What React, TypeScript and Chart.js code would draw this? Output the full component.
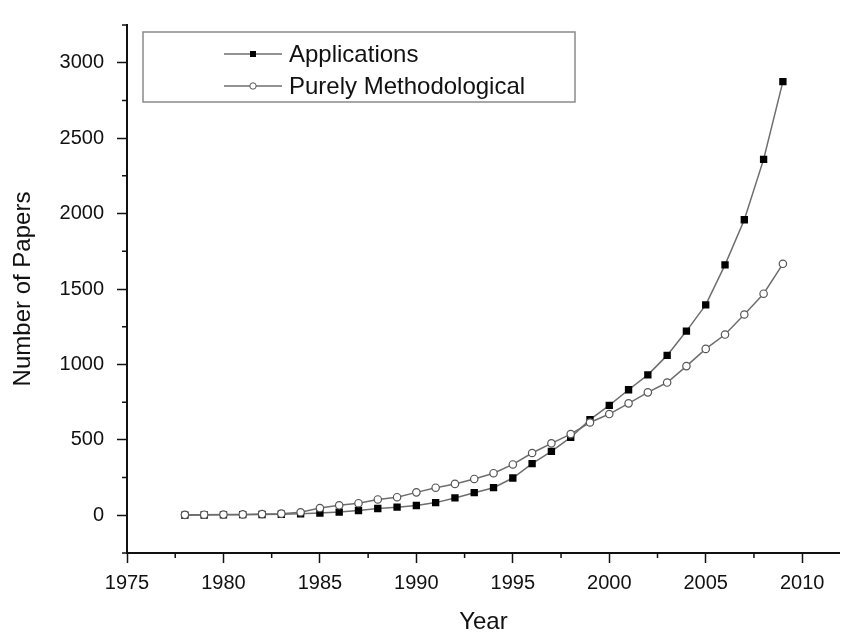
import React, { useEffect, useRef } from 'react';
import { Chart, registerables } from 'chart.js';

Chart.register(...registerables);

const years = [
  1978, 1979, 1980, 1981, 1982, 1983, 1984, 1985, 1986, 1987, 1988, 1989, 1990, 1991, 1992, 1993,
  1994, 1995, 1996, 1997, 1998, 1999, 2000, 2001, 2002, 2003, 2004, 2005, 2006, 2007, 2008, 2009,
];
const applications = [
  1, 2, 3, 4, 5, 7, 10, 15, 21, 32, 45, 54, 65, 84, 115, 150,
  183, 247, 342, 424, 516, 634, 729, 832, 931, 1060, 1221, 1395, 1660, 1959, 2359, 2875,
];
const methodological = [
  3, 4, 5, 6, 8, 11, 20, 48, 66, 80, 105, 120, 152, 183, 208, 241,
  279, 337, 413, 477, 538, 615, 671, 742, 815, 880, 989, 1103, 1198, 1331, 1469, 1667,
];
const seriesLabels = ['Applications', 'Purely Methodological'];
const xTickValues = [1975, 1980, 1985, 1990, 1995, 2000, 2005, 2010];
const yTickValues = [0, 500, 1000, 1500, 2000, 2500, 3000];
const xMinorTicks = [1977.5, 1982.5, 1987.5, 1992.5, 1997.5, 2002.5, 2007.5];
const yMinorTicks = [-250, 250, 750, 1250, 1750, 2250, 2750, 3250];
const xTitle = 'Year';
const yTitle = 'Number of Papers';

const FONT = "'Liberation Sans', Arial, sans-serif";
const INK = '#111111';
const LINE = '#6e6e6e';

const minorTickPlugin = {
  id: 'minorTicks',
  afterDraw(chart: any) {
    const { ctx } = chart;
    const xs = chart.scales.x;
    const ys = chart.scales.y;
    ctx.save();
    ctx.strokeStyle = INK;
    ctx.lineWidth = 1.5;
    ctx.beginPath();
    xMinorTicks.forEach((v) => {
      const px = xs.getPixelForValue(v);
      ctx.moveTo(px, xs.top);
      ctx.lineTo(px, xs.top + 5);
    });
    yMinorTicks.forEach((v) => {
      const py = ys.getPixelForValue(v);
      ctx.moveTo(ys.right, py);
      ctx.lineTo(ys.right - 5, py);
    });
    ctx.stroke();
    ctx.restore();
  },
};

const boxLegendPlugin = {
  id: 'boxLegend',
  afterDraw(chart: any) {
    const { ctx } = chart;
    const left = 143;
    const top = 32;
    const width = 432;
    const height = 70;
    ctx.save();
    ctx.fillStyle = '#ffffff';
    ctx.fillRect(left, top, width, height);
    ctx.strokeStyle = '#8a8a8a';
    ctx.lineWidth = 1.5;
    ctx.strokeRect(left, top, width, height);
    const rows = [54, 86];
    chart.data.datasets.forEach((ds: any, i: number) => {
      const y = rows[i];
      ctx.strokeStyle = LINE;
      ctx.lineWidth = 1.5;
      ctx.beginPath();
      ctx.moveTo(224, y);
      ctx.lineTo(282, y);
      ctx.stroke();
      if (ds.pointStyle === 'rect') {
        ctx.fillStyle = '#000';
        ctx.fillRect(253 - 3, y - 3, 6, 6);
      } else {
        ctx.beginPath();
        ctx.arc(253, y, 3.2, 0, Math.PI * 2);
        ctx.fillStyle = '#fff';
        ctx.fill();
        ctx.strokeStyle = '#555';
        ctx.lineWidth = 1;
        ctx.stroke();
      }
      ctx.fillStyle = INK;
      ctx.font = `24px ${FONT}`;
      ctx.textAlign = 'left';
      ctx.textBaseline = 'middle';
      ctx.fillText(ds.label, 289, y + 1);
    });
    ctx.restore();
  },
};

export default function App() {
  const canvasRef = useRef<HTMLCanvasElement | null>(null);

  useEffect(() => {
    if (!canvasRef.current) return;
    const chart = new Chart(canvasRef.current, {
      type: 'line',
      data: {
        datasets: [
          {
            label: seriesLabels[0],
            data: years.map((y, i) => ({ x: y, y: applications[i] })),
            borderColor: LINE,
            borderWidth: 1.5,
            pointStyle: 'rect',
            pointRadius: 5.2,
            pointBackgroundColor: '#000',
            pointBorderColor: '#000',
            pointBorderWidth: 0,
            tension: 0,
            order: 2,
          },
          {
            label: seriesLabels[1],
            data: years.map((y, i) => ({ x: y, y: methodological[i] })),
            borderColor: LINE,
            borderWidth: 1.5,
            pointStyle: 'circle',
            pointRadius: 3.7,
            pointBackgroundColor: '#fff',
            pointBorderColor: '#555',
            pointBorderWidth: 1.2,
            tension: 0,
            order: 1,
          },
        ],
      },
      options: {
        responsive: false,
        animation: false,
        layout: { padding: { top: 14, right: 0, left: 0, bottom: 0 } },
        plugins: {
          legend: { display: false },
          tooltip: { enabled: false },
        },
        scales: {
          x: {
            type: 'linear',
            min: 1975,
            max: 2011.95,
            afterBuildTicks: (scale: any) => {
              scale.ticks = xTickValues.map((v) => ({ value: v }));
            },
            afterFit: (scale: any) => {
              scale.height = 81;
              scale.paddingRight = 0;
            },
            border: { display: true, color: INK, width: 2 },
            grid: {
              drawOnChartArea: false,
              drawTicks: true,
              tickLength: 10,
              tickWidth: 1.5,
              tickColor: INK,
            },
            ticks: {
              color: INK,
              font: { family: FONT, size: 20 },
              padding: 8,
              maxRotation: 0,
              autoSkip: false,
              callback: (v: any) => String(v),
            },
            title: {
              display: true,
              text: xTitle,
              color: INK,
              font: { family: FONT, size: 24, lineHeight: 1 },
              padding: { top: 0, bottom: 0 },
            },
          },
          y: {
            type: 'linear',
            min: -250,
            max: 3250,
            afterBuildTicks: (scale: any) => {
              scale.ticks = yTickValues.map((v) => ({ value: v }));
            },
            afterFit: (scale: any) => {
              scale.width = 127;
            },
            border: { display: true, color: INK, width: 2 },
            grid: {
              drawOnChartArea: false,
              drawTicks: true,
              tickLength: 10,
              tickWidth: 1.5,
              tickColor: INK,
            },
            ticks: {
              color: INK,
              font: { family: FONT, size: 20 },
              padding: 13,
              autoSkip: false,
              callback: (v: any) => String(v),
            },
            title: {
              display: true,
              text: yTitle,
              color: INK,
              font: { family: FONT, size: 24, lineHeight: 1 },
              padding: { top: 11, bottom: 0 },
            },
          },
        },
      },
      plugins: [minorTickPlugin, boxLegendPlugin],
    });
    return () => chart.destroy();
  }, []);

  return (
    <div style={{ position: 'fixed', left: 0, top: 0, width: 845, height: 634, background: '#fff' }}>
      <canvas ref={canvasRef} width={845} height={634} style={{ display: 'block' }} />
    </div>
  );
}
